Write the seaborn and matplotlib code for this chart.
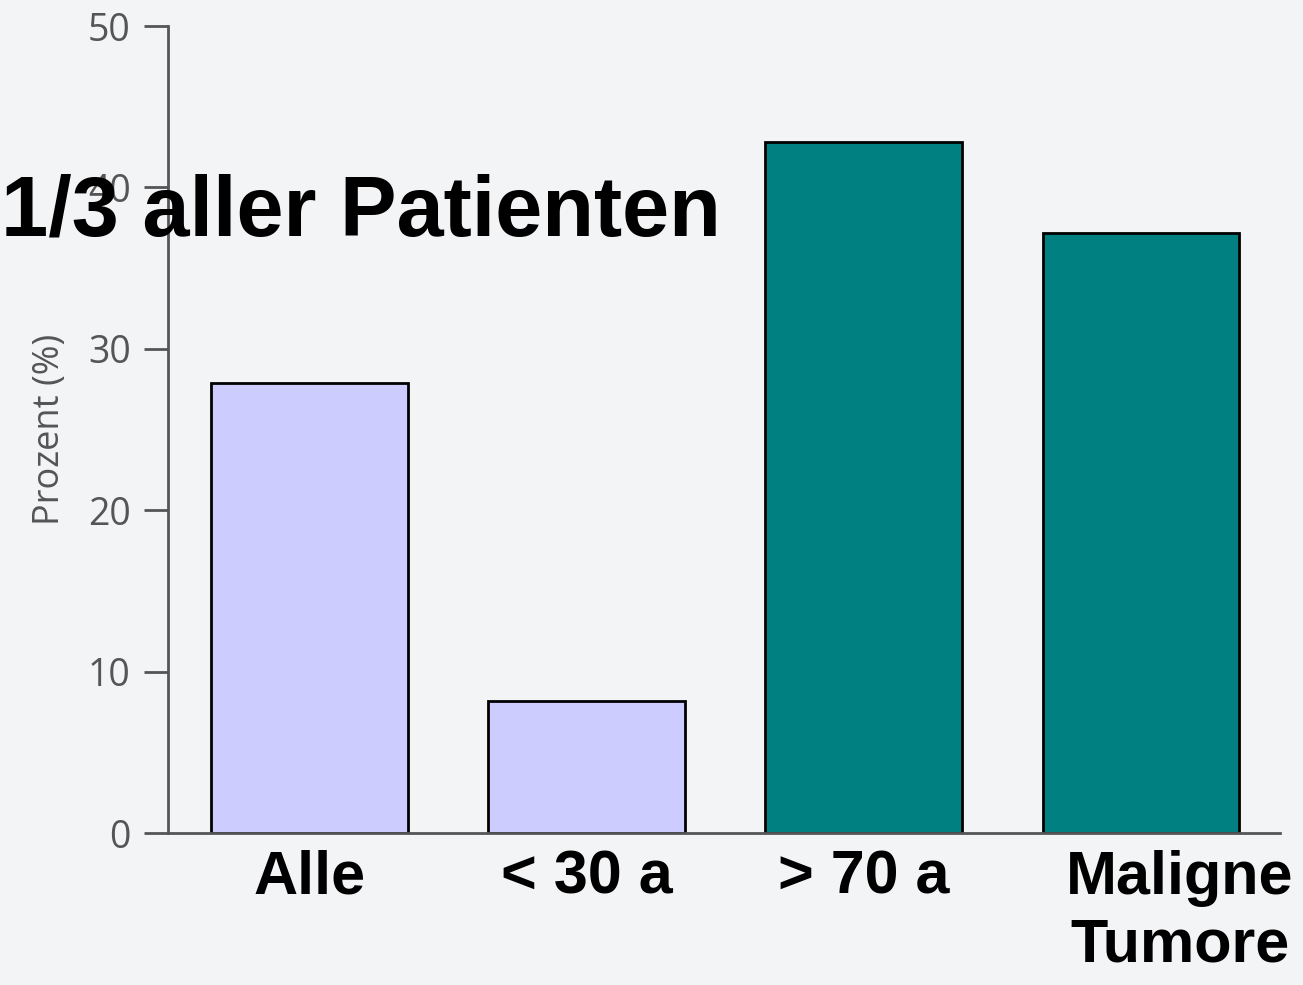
import matplotlib
matplotlib.use("Agg")
import matplotlib.pyplot as plt
import matplotlib.transforms as mtransforms
import seaborn as sns
import pandas as pd

categories = ["Alle", "< 30 a", "> 70 a", "Maligne\nTumore"]
values = [27.9, 8.2, 42.8, 37.2]
bar_colors = ["#ccccff", "#ccccff", "#008080", "#008080"]
yticks = [0, 10, 20, 30, 40, 50]
title_text = "1/3 aller Patienten"
ylabel_text = "Prozent (%)"

df = pd.DataFrame({"cat": categories, "val": values})

sns.set_theme(style="white")
plt.rcParams["font.family"] = ["Liberation Sans", "DejaVu Sans"]

bg = "#f3f4f6"
fig = plt.figure(figsize=(13.03, 9.85), dpi=100, facecolor=bg)
ax = fig.add_axes([0.129, 0.1543, 0.853, 0.8193])
ax.set_facecolor(bg)

sns.barplot(data=df, x="cat", y="val", hue="cat", palette=bar_colors,
            legend=False, width=0.71, edgecolor="black", linewidth=2,
            saturation=1, ax=ax)

ax.set_xlim(-0.51, 3.5)
ax.set_ylim(0, 50)
ax.set_yticks(yticks)
ax.set_yticklabels([str(t) for t in yticks], family="Open Sans",
                   fontsize=27, color="#555555")
ax.tick_params(axis="y", direction="out", length=17, width=2,
               color="#555555", pad=10, left=True)
ax.tick_params(axis="x", length=0, pad=12)
for lab in ax.get_xticklabels():
    lab.set_fontsize(44)
    lab.set_fontweight("bold")
    lab.set_color("black")
    lab.set_linespacing(1.25)
labs = ax.get_xticklabels()
labs[3].set_transform(labs[3].get_transform() +
                      mtransforms.ScaledTranslation(0.39, 0, fig.dpi_scale_trans))

ax.set_xlabel("")
ax.set_ylabel(ylabel_text, family="Open Sans", fontsize=26,
              color="#555555", labelpad=14)

for s in ["top", "right"]:
    ax.spines[s].set_visible(False)
for s in ["left", "bottom"]:
    ax.spines[s].set_color("#555555")
    ax.spines[s].set_linewidth(2)

fig.text(0.001, 0.761, title_text, fontsize=61, fontweight="bold",
         color="black", va="baseline", ha="left")

fig.savefig("out.png", dpi=100, facecolor=bg)
